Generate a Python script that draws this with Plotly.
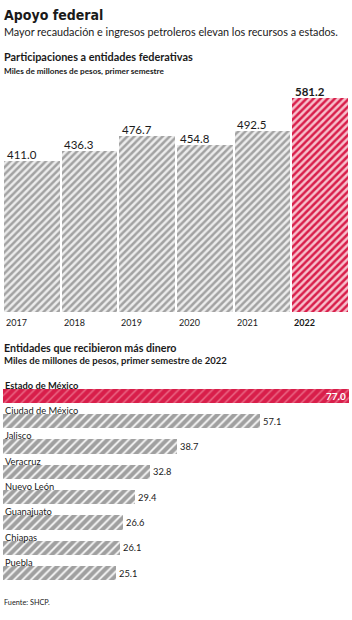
import plotly.graph_objects as go

# ---- data ----
years = ["2017", "2018", "2019", "2020", "2021", "2022"]
particip = [411.0, 436.3, 476.7, 454.8, 492.5, 581.2]

states = ["Estado de México", "Ciudad de México", "Jalisco", "Veracruz",
          "Nuevo León", "Guanajuato", "Chiapas", "Puebla"]
state_vals = [77.0, 57.1, 38.7, 32.8, 29.4, 26.6, 26.1, 25.1]

W, H = 352, 620
FONT = "Lato"
RED = "#d81e4a"

def py(px):
    return 1 - px / H

fig = go.Figure()

def hatch(fg, bg, size, sol):
    return dict(color=bg, line=dict(width=0),
                pattern=dict(shape="/", fgcolor=fg, bgcolor=bg, fgopacity=1,
                             size=size, solidity=sol, fillmode="replace"))

xs = list(range(len(years)))
# ---- top chart ----
fig.add_trace(go.Bar(x=xs[:-1], y=particip[:-1], width=0.965,
                     marker=hatch("#a2a2a2", "#ececec", 5, 0.5),
                     xaxis="x", yaxis="y", hoverinfo="skip", showlegend=False))
fig.add_trace(go.Bar(x=xs[-1:], y=particip[-1:], width=0.965,
                     marker=hatch(RED, "#f7c0cc", 5, 0.5),
                     xaxis="x", yaxis="y", hoverinfo="skip", showlegend=False))

# ---- bottom chart ----
ys = list(range(len(states)))
fig.add_trace(go.Bar(y=ys[:1], x=state_vals[:1], orientation="h", width=0.56,
                     marker=hatch(RED, "#e9607f", 6, 0.7),
                     xaxis="x2", yaxis="y2", hoverinfo="skip", showlegend=False))
fig.add_trace(go.Bar(y=ys[1:], x=state_vals[1:], orientation="h", width=0.56,
                     marker=hatch("#a0a0a0", "#f4f4f4", 6, 0.68),
                     xaxis="x2", yaxis="y2", hoverinfo="skip", showlegend=False))

ann = []
# value labels top
for i, (yr, v) in enumerate(zip(years, particip)):
    last = i == len(years) - 1
    ann.append(dict(x=i - 0.47, y=v, xref="x", yref="y", text=f"{v:.1f}",
                    xanchor="left", yanchor="bottom", yshift=-2, showarrow=False,
                    font=dict(family=FONT, size=11.5, color="#1a1a1a",
                              weight="bold" if last else "normal")))
    ann.append(dict(x=i - 0.48, y=0, xref="x", yref="y", text=yr,
                    xanchor="left", yanchor="top", yshift=-3, showarrow=False,
                    font=dict(family=FONT, size=9, color="#1a1a1a",
                              weight="bold" if last else "normal")))

# labels bottom
for i, (s, v) in enumerate(zip(states, state_vals)):
    ann.append(dict(x=0, y=i - 0.28, xref="x2", yref="y2", text=s,
                    xanchor="left", yanchor="bottom", yshift=-4, showarrow=False,
                    font=dict(family=FONT, size=9.3, color="#1a1a1a",
                              weight="bold" if i == 0 else "normal")))
    if i == 0:
        ann.append(dict(x=v, y=i, xref="x2", yref="y2", text=f"{v:.1f}",
                        xanchor="right", yanchor="middle", xshift=-1, showarrow=False,
                        font=dict(family=FONT, size=10, color="white", weight="bold")))
    else:
        ann.append(dict(x=v, y=i, xref="x2", yref="y2", text=f"{v:.1f}",
                        xanchor="left", yanchor="middle", xshift=1, showarrow=False,
                        font=dict(family=FONT, size=9.3, color="#1a1a1a")))

# titles
def txt(text, ypx, size, weight="normal", family=FONT, color="#1a1a1a"):
    ann.append(dict(x=3 / W, y=py(ypx), xref="paper", yref="paper", text=text,
                    xanchor="left", yanchor="middle", showarrow=False, xshift=-1,
                    font=dict(family=family, size=size, color=color, weight=weight)))

txt("Apoyo federal", 15, 14, "bold", "Liberation Sans Narrow, DejaVu Sans Condensed")
txt("Mayor recaudación e ingresos petroleros elevan los recursos a estados.", 31, 10.8)
txt("Participaciones a entidades federativas", 57, 10.9, "bold")
txt("Miles de millones de pesos, primer semestre", 71, 8.2, "bold")
txt("Entidades que recibieron más dinero", 347, 10.7, "bold")
txt("Miles de millones de pesos, primer semestre de 2022", 360, 9.5, "bold")
txt("Fuente: SHCP.", 602, 7.3)

fig.update_layout(
    width=W, height=H, margin=dict(l=0, r=0, t=0, b=0),
    paper_bgcolor="white", plot_bgcolor="white",
    annotations=ann, barmode="overlay",
    xaxis=dict(domain=[3 / W, 349 / W], range=[-0.5, 5.5], visible=False, fixedrange=True),
    yaxis=dict(domain=[py(312), py(98)], range=[0, 581.2], visible=False, fixedrange=True),
    xaxis2=dict(domain=[3 / W, 349 / W], range=[0, 77.0], visible=False, anchor="y2", fixedrange=True),
    yaxis2=dict(domain=[py(586), py(383)], range=[7.5, -0.5], visible=False, anchor="x2", fixedrange=True),
    bargap=0,
)
fig.update_traces(cliponaxis=False)
fig.write_html("out.html", config={"displayModeBar": False})
